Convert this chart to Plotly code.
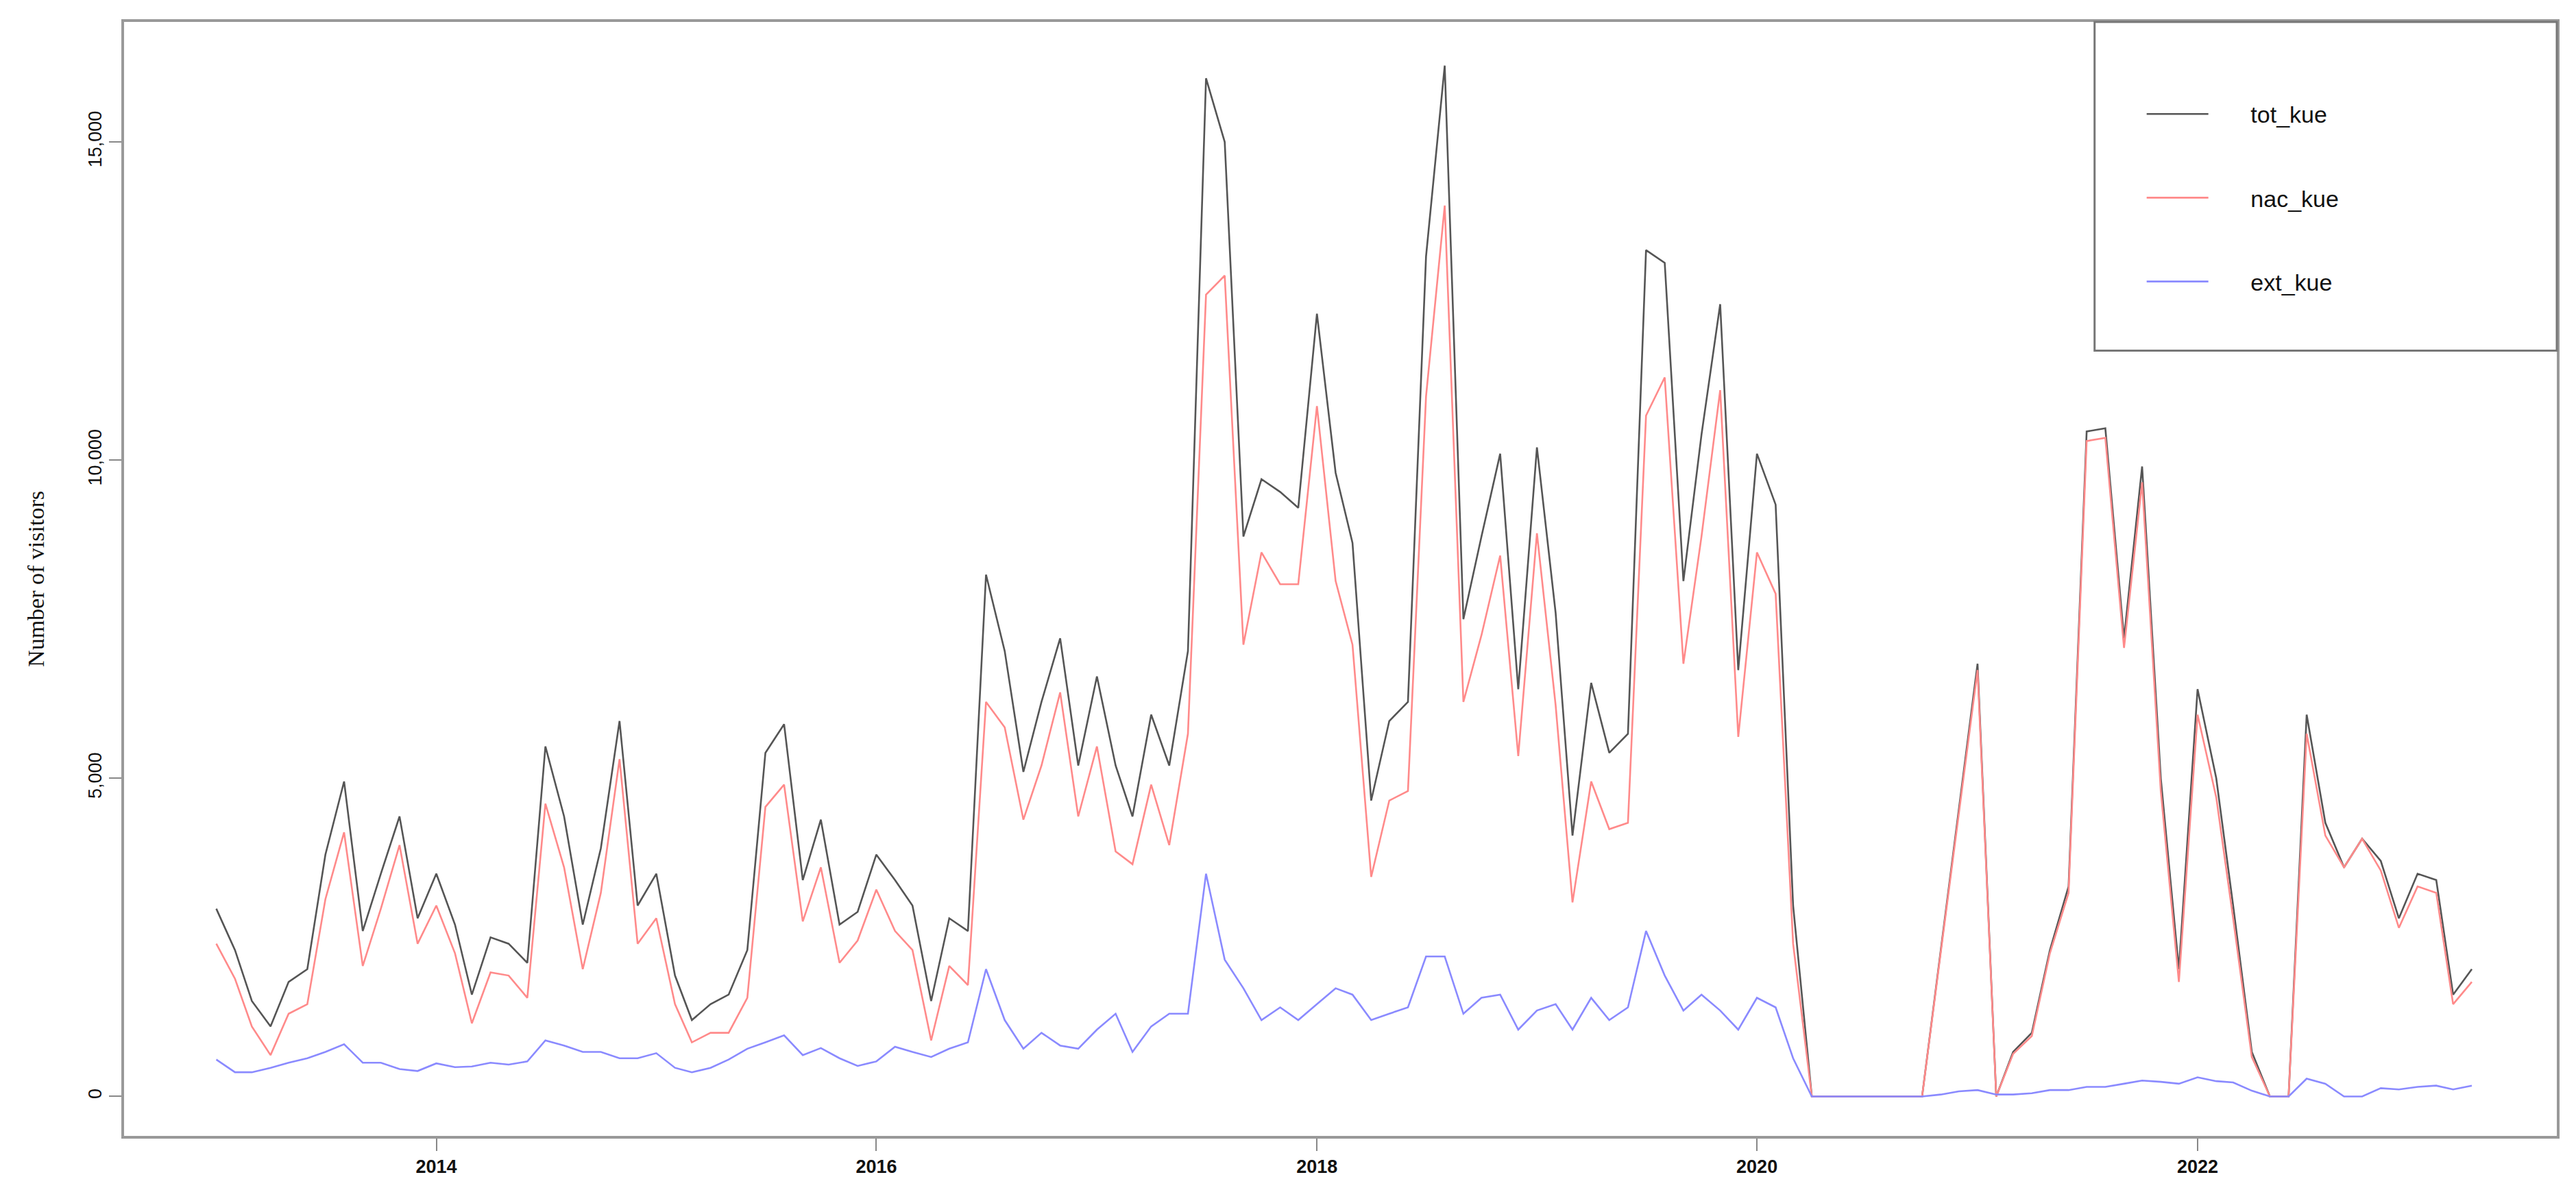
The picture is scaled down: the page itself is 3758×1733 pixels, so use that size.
import pandas as pd
import plotly.graph_objects as go

months = pd.date_range("2013-01-01", "2023-04-01", freq="MS")

tot_kue = [2950, 2300, 1500, 1100, 1800, 2000, 3800, 4950, 2600, 3500, 4400, 2800,
           3500, 2700, 1600, 2500, 2400, 2100, 5500, 4400, 2700, 3900, 5900, 3000,
           3500, 1900, 1200, 1450, 1600, 2300, 5400, 5850, 3400, 4350, 2700, 2900,
           3800, 3400, 3000, 1500, 2800, 2600, 8200, 7000, 5100, 6200, 7200, 5200,
           6600, 5200, 4400, 6000, 5200, 7000, 16000, 15000, 8800, 9700, 9500, 9250,
           12300, 9800, 8700, 4650, 5900, 6200, 13200, 16200, 7500, 8800, 10100, 6400,
           10200, 7600, 4100, 6500, 5400, 5700, 13300, 13100, 8100, 10400, 12450, 6700,
           10100, 9300, 3000, 0, 0, 0, 0, 0, 0, 0, 2300, 4500,
           6800, 0, 700, 1000, 2300, 3300, 10450, 10500, 7200, 9900, 5000, 2000,
           6400, 5000, 3000, 700, 0, 0, 6000, 4300, 3600, 4050, 3700, 2800,
           3500, 3400, 1600, 2000]

nac_kue = [2400, 1850, 1100, 650, 1300, 1450, 3100, 4150, 2050, 2950, 3950, 2400,
           3000, 2250, 1150, 1950, 1900, 1550, 4600, 3600, 2000, 3200, 5300, 2400,
           2800, 1450, 850, 1000, 1000, 1550, 4550, 4900, 2750, 3600, 2100, 2450,
           3250, 2600, 2300, 880, 2050, 1750, 6200, 5800, 4350, 5200, 6350, 4400,
           5500, 3850, 3650, 4900, 3950, 5700, 12600, 12900, 7100, 8550, 8050, 8050,
           10850, 8100, 7100, 3450, 4650, 4800, 11000, 14000, 6200, 7250, 8500, 5350,
           8850, 6150, 3050, 4950, 4200, 4300, 10700, 11300, 6800, 8800, 11100, 5650,
           8550, 7900, 2400, 0, 0, 0, 0, 0, 0, 0, 2270, 4420,
           6700, 0, 670, 950, 2250, 3200, 10300, 10350, 7050, 9650, 4800, 1800,
           6000, 4700, 2800, 620, 0, 0, 5700, 4100, 3600, 4050, 3550, 2650,
           3300, 3200, 1450, 1800]

ext_kue = [580, 380, 380, 450, 530, 600, 700, 820, 530, 530, 430, 400,
           520, 460, 470, 530, 500, 550, 880, 800, 700, 700, 600, 600,
           680, 450, 380, 450, 580, 750, 850, 960, 650, 760, 600, 480,
           550, 780, 700, 620, 750, 850, 2000, 1200, 750, 1000, 800, 750,
           1050, 1300, 700, 1100, 1300, 1300, 3500, 2150, 1700, 1200, 1400, 1200,
           1450, 1700, 1600, 1200, 1300, 1400, 2200, 2200, 1300, 1550, 1600, 1050,
           1350, 1450, 1050, 1550, 1200, 1400, 2600, 1900, 1350, 1600, 1350, 1050,
           1550, 1400, 600, 0, 0, 0, 0, 0, 0, 0, 30, 80,
           100, 30, 30, 50, 100, 100, 150, 150, 200, 250, 230, 200,
           300, 240, 220, 90, 0, 0, 280, 200, 0, 0, 130, 110,
           150, 170, 110, 170]

series_names = ["tot_kue", "nac_kue", "ext_kue"]
series_colors = ["#555555", "#ff8a8a", "#8a8aff"]
y_ticks = [0, 5000, 10000, 15000]
y_tick_labels = ["0", "5,000", "10,000", "15,000"]
x_ticks = ["2014-01-01", "2016-01-01", "2018-01-01", "2020-01-01", "2022-01-01"]
x_tick_labels = ["2014", "2016", "2018", "2020", "2022"]

fig = go.Figure()
for name, vals, col in zip(series_names, [tot_kue, nac_kue, ext_kue], series_colors):
    fig.add_trace(go.Scatter(x=months, y=vals, mode="lines", name="      " + name,
                             legendgroup=name,
                             line=dict(color=col, width=2.6)))

W, H = 3758, 1733
L, R, T, B = 173, 36, 24, 84
fig.update_layout(
    width=W, height=H, plot_bgcolor="white", paper_bgcolor="white",
    margin=dict(l=L, r=R, t=T, b=B),
    font=dict(family="Liberation Sans Narrow, Liberation Sans, Arial", color="#111111"),
    legend=dict(x=0.83, y=0.935, xanchor="left", yanchor="top",
                bgcolor="rgba(0,0,0,0)", font=dict(size=34),
                tracegroupgap=75, itemwidth=90, traceorder="grouped"),
    shapes=[dict(type="rect", xref="paper", yref="paper", x0=0.81, x1=1.0,
                 y0=0.705, y1=1.0, line=dict(color="#777777", width=3))],
)
fig.update_xaxes(range=["2012-08-01", "2023-08-20"], tickvals=x_ticks, ticktext=x_tick_labels,
                 showgrid=False, zeroline=False, showline=True, mirror=True,
                 linecolor="#999999", linewidth=4, ticks="outside", ticklen=18,
                 tickcolor="#888888", tickwidth=2,
                 tickfont=dict(size=27, family="Liberation Sans, Arial", weight="bold"))
fig.update_yaxes(range=[-620, 16886], tickvals=y_ticks, ticktext=y_tick_labels,
                 showgrid=False, zeroline=False, showline=True, mirror=True,
                 linecolor="#999999", linewidth=4, ticks="outside", ticklen=18,
                 tickcolor="#888888", tickwidth=2, tickangle=-90,
                 tickfont=dict(size=27),
                 title=dict(text="Number of visitors", standoff=50,
                            font=dict(size=34, family="Liberation Serif, Times New Roman")))
fig.write_html("out.html")
